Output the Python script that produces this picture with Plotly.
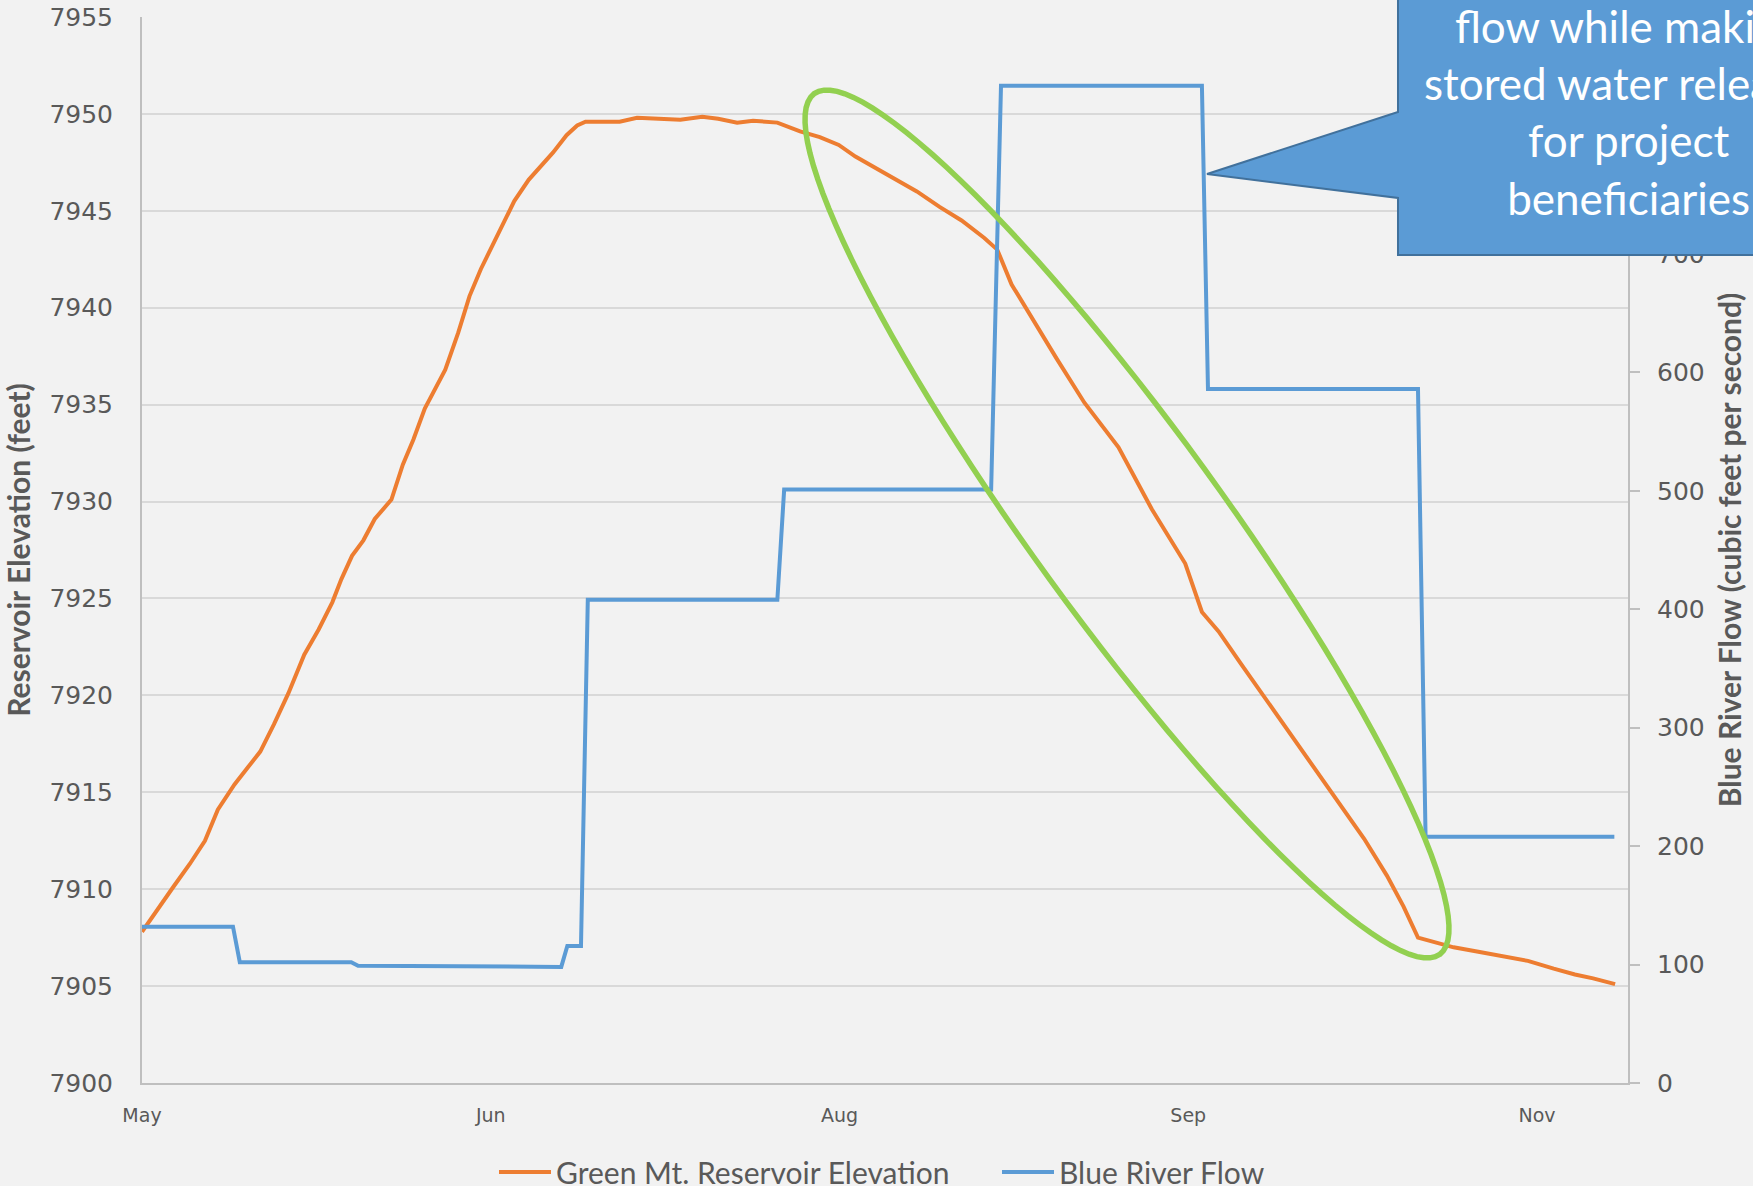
import numpy as np
import pandas as pd
import plotly.graph_objects as go

# ---------------- data ----------------
base_date = "2013-05-01"
x_tick_days = [0, 46, 92, 138, 184]
x_tick_text = ["May", "Jun", "Aug", "Sep", "Nov"]

elev_day = [0, 1.9, 4.1, 6.3, 8.3, 10.0, 12.2, 14.0, 15.6, 17.4, 19.3, 21.4, 23.3, 25.1,
            26.3, 27.7, 29.2, 30.7, 32.9, 34.4, 35.8, 37.3, 40.0, 41.7, 43.2, 44.7, 46.9,
            49.1, 51.0, 54.2, 56.0, 57.4, 58.5, 61, 63, 65.3, 68, 71, 73.9, 76, 78.5, 80.6,
            83.8, 86.8, 89.4, 91.9, 94.1, 96.3, 99.3, 102.2, 105.2, 108.1, 111.1, 112.8,
            114.7, 117.0, 120.6, 124.3, 128.8, 133.2, 135.4, 137.6, 139.8, 142.0, 145.0,
            147.9, 152.4, 156.8, 161.2, 164.2, 166.4, 168.3, 170.1, 173.0, 175.9, 178.9,
            182.8, 186.2, 189, 191.4, 194.3]
elev_ft = [7907.8, 7908.9, 7910.1, 7911.3, 7912.5, 7914.1, 7915.4, 7916.3, 7917.1, 7918.5,
           7920.1, 7922.1, 7923.4, 7924.8, 7926.0, 7927.2, 7928.0, 7929.1, 7930.1, 7931.9,
           7933.2, 7934.8, 7936.8, 7938.7, 7940.6, 7942.0, 7943.8, 7945.5, 7946.6, 7948.0,
           7948.9, 7949.4, 7949.6, 7949.6, 7949.6, 7949.8, 7949.75, 7949.7, 7949.85, 7949.75,
           7949.55, 7949.65, 7949.55, 7949.1, 7948.8, 7948.4, 7947.8, 7947.3, 7946.6, 7946.0,
           7945.2, 7944.5, 7943.6, 7943.0, 7941.2, 7939.7, 7937.4, 7935.1, 7932.8, 7929.6,
           7928.2, 7926.8, 7924.3, 7923.3, 7921.6, 7920.0, 7917.5, 7915.1, 7912.6, 7910.7,
           7909.1, 7907.5, 7907.3, 7907.0, 7906.8, 7906.6, 7906.3, 7905.9, 7905.6, 7905.4,
           7905.1]

flow_day = [0, 12.0, 12.9, 27.6, 28.5, 55.3, 56.1, 57.9, 58.8, 83.8, 84.7, 112.0, 113.3,
            139.8, 140.6, 168.3, 169.3, 194.2]
flow_cfs = [132, 132, 102, 102, 99, 98, 115.7, 115.7, 408, 408, 501, 501, 842, 842, 586,
            586, 208, 208]

series_names = ["Green Mt. Reservoir Elevation", "Blue River Flow"]
left_title = "Reservoir Elevation (feet)"
right_title = "Blue River Flow (cubic feet per second)"
callout_lines = ["flow while making", "stored water releases", "for project", "beneficiaries"]

# ---------------- figure ----------------
W, H = 1753, 1186
L, R, T, B = 142, 125, 17, 103
PW, PH = W - L - R, H - T - B

base = pd.Timestamp(base_date)
to_dates = lambda d: base + pd.to_timedelta(np.array(d, dtype=float), unit="D")

ORANGE = "#ED7D31"
BLUE = "#5B9BD5"
TXT = "#595959"
NARROW = "Lato, Open Sans, sans-serif"

fig = go.Figure()
fig.add_trace(go.Scatter(x=to_dates(elev_day), y=elev_ft, mode="lines", legend="legend",
                         name=series_names[0], line=dict(color=ORANGE, width=4)))
fig.add_trace(go.Scatter(x=to_dates(flow_day), y=flow_cfs, mode="lines", yaxis="y2",
                         legend="legend2",
                         name=series_names[1], line=dict(color=BLUE, width=4)))


def px2paper(x, y):
    return (np.asarray(x) - L) / PW, 1 - (np.asarray(y) - T) / PH


# green ellipse (pixel geometry -> paper)
t = np.linspace(0, 2 * np.pi, 121)
th = np.deg2rad(54)
a_, b_, cx, cy = 532, 95, 1127, 524
ex = cx + a_ * np.cos(t) * np.cos(th) - b_ * np.sin(t) * np.sin(th)
ey = cy + a_ * np.cos(t) * np.sin(th) + b_ * np.sin(t) * np.cos(th)
pxs, pys = px2paper(ex, ey)
path = "M " + " L ".join(f"{u:.5f},{v:.5f}" for u, v in zip(pxs, pys)) + " Z"
fig.add_shape(type="path", xref="paper", yref="paper", path=path,
              line=dict(color="#92D050", width=5.5), layer="above")

# callout box
cpts = [(1398, -60), (1398, 112), (1207, 174), (1398, 198), (1398, 255), (1900, 255), (1900, -60)]
cxp, cyp = px2paper([p[0] for p in cpts], [p[1] for p in cpts])
cpath = "M " + " L ".join(f"{u:.5f},{v:.5f}" for u, v in zip(cxp, cyp)) + " Z"
fig.add_shape(type="path", xref="paper", yref="paper", path=cpath,
              fillcolor="#5B9BD5", line=dict(color="#41719C", width=2), layer="above")

tx, ty = px2paper(1628, 112)
fig.add_annotation(xref="paper", yref="paper", x=float(tx), y=float(ty),
                   text="<br>".join(callout_lines), showarrow=False, align="center",
                   xanchor="center", yanchor="middle",
                   font=dict(family="Lato, Open Sans, sans-serif", size=44, color="white"))

lx1, ly = px2paper(494, 1172)
lx2, _ = px2paper(997, 1172)
legend_style = dict(orientation="h", yanchor="middle", xanchor="left", y=float(ly),
                    itemwidth=52,
                    font=dict(family=NARROW, size=30, color=TXT), bgcolor="rgba(0,0,0,0)")

fig.update_layout(
    width=W, height=H,
    margin=dict(l=L, r=R, t=T, b=B, autoexpand=False),
    paper_bgcolor="#F2F2F2", plot_bgcolor="#F2F2F2",
    showlegend=True,
    legend=dict(x=float(lx1), **legend_style),
    legend2=dict(x=float(lx2), **legend_style),
    xaxis=dict(type="date", range=[to_dates([0])[0], to_dates([196])[0]],
               tickvals=to_dates(x_tick_days), ticktext=x_tick_text,
               showgrid=False, zeroline=False, showline=True, linecolor="#BFBFBF", linewidth=2,
               ticks="", ticklabelstandoff=14,
               tickfont=dict(family="DejaVu Sans, sans-serif", size=19, color=TXT)),
    yaxis=dict(range=[7900, 7955], dtick=5, tick0=7900, showgrid=True, gridcolor="#D9D9D9",
               gridwidth=1.5, zeroline=False, showline=True, linecolor="#BFBFBF", linewidth=2,
               ticks="", ticklabelstandoff=22,
               tickfont=dict(family="DejaVu Sans, sans-serif", size=25, color=TXT),
               title=dict(text=left_title, standoff=12,
                          font=dict(family=NARROW, size=30, color=TXT, weight="bold"))),
    yaxis2=dict(range=[0, 900], dtick=100, tick0=0, overlaying="y", side="right",
                showgrid=False, zeroline=False, showline=True, linecolor="#BFBFBF", linewidth=2,
                ticks="outside", ticklen=10, tickcolor="#BFBFBF", tickwidth=2,
                ticklabelstandoff=12,
                tickfont=dict(family="DejaVu Sans, sans-serif", size=25, color=TXT),
                title=dict(text=right_title, standoff=16,
                           font=dict(family=NARROW, size=30, color=TXT, weight="bold"))),
)

fig.write_html("out.html", config={"displayModeBar": False},
               post_script="document.body.style.margin='0';document.body.style.padding='0';"
                           "document.body.style.overflow='hidden';")
